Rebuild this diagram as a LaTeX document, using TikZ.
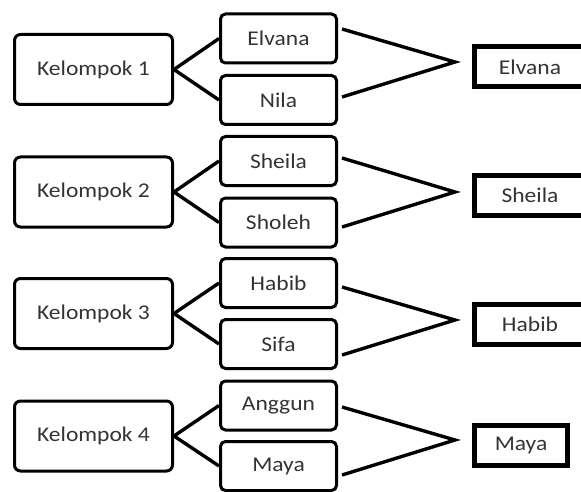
\documentclass[tikz,border=0pt]{standalone}
\usepackage{fontspec}
\setmainfont{Carlito}[FakeStretch=1.12]
\usetikzlibrary{calc}

\begin{document}
\begin{tikzpicture}[x=1pt,y=-1pt, every node/.style={font=\fontsize{21}{25}\selectfont, text=black!80},
    grp/.style={draw, line width=3pt, rounded corners=6pt, minimum width=158pt, minimum height=70pt},
    member/.style={draw, line width=3pt, rounded corners=5pt, minimum width=116pt, minimum height=49pt},
    pick/.style={draw, line width=5pt, minimum height=40pt},
    link/.style={line width=3.4pt}]
    \clip (0,0) rectangle (581,492);
    % groups
    \foreach \i/\y in {1/69.5,2/192,3/313.5,4/436}{\node[grp] (k\i) at (93.5,\y) {Kelompok \i};}
    % members
    \foreach \n/\y/\t in {1/38.5/Elvana,2/100/Nila,3/161/Sheila,4/222.5/Sholeh,5/283/Habib,6/344/Sifa,7/405.5/Anggun,8/466/Maya}{
        \node[member] (m\n) at (278.5,\y) {\t};
    }
    % chosen ones
    \foreach \i/\y/\t in {1/67/Elvana,2/195.5/Sheila,3/324.5/Habib}{\node[pick, minimum width=111pt] (r\i) at (530,\y) {\t};}
    \node[pick, minimum width=93pt] (r4) at (521,445.5) {Maya};
    % tips of the fans
    \foreach \i/\y in {1/62,2/192,3/320,4/440}{\coordinate (t\i) at (455,\y);}
    \foreach \i/\da/\db in {1/-9.5/-3,2/-3/4.5,3/4/11,4/1.5/9}{
        \pgfmathtruncatemacro{\a}{2*\i-1}
        \pgfmathtruncatemacro{\b}{2*\i}
        \draw[link] (k\i.east) -- (m\a.west);
        \draw[link] (k\i.east) -- (m\b.west);
        \draw[link] ($(m\a.east)+(4,\da)$) -- (t\i) -- ($(m\b.east)+(4,\db)$);
    }
\end{tikzpicture}
\end{document}
